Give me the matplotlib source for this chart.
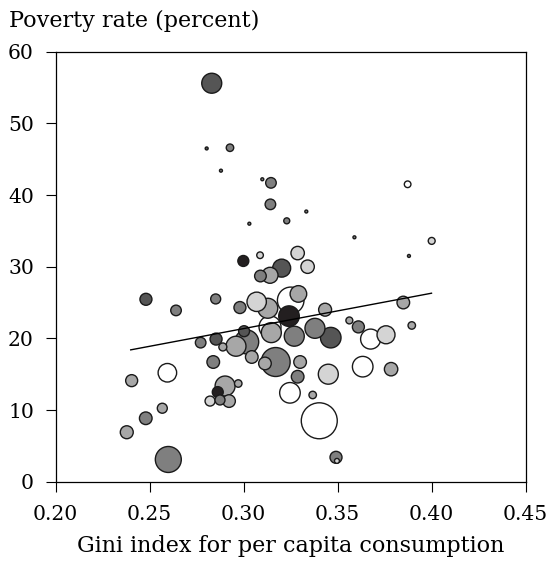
import numpy as np
import matplotlib
matplotlib.use("Agg")
import matplotlib.pyplot as plt

# Gini index, poverty rate (percent), population weight and shading group
gini = [0.2831, 0.2804, 0.2928, 0.2880, 0.3100, 0.3146, 0.3143, 0.3334, 0.3031, 0.3230,
        0.3873, 0.3590, 0.4001, 0.3880, 0.2999, 0.3088, 0.3288, 0.3203, 0.3341, 0.3090,
        0.3141, 0.2852, 0.2981, 0.3070, 0.3129, 0.3251, 0.3292, 0.3242, 0.3434, 0.3141,
        0.3148, 0.3003, 0.2960, 0.2854, 0.3270, 0.3380, 0.3464, 0.3171, 0.2772, 0.3017,
        0.2890, 0.3044, 0.3114, 0.3301, 0.3288, 0.3247, 0.3368, 0.2902, 0.2972, 0.2863,
        0.2822, 0.2875, 0.2923, 0.3850, 0.3563, 0.3611, 0.3676, 0.3758, 0.3895, 0.3634,
        0.3785, 0.3451, 0.3403, 0.3492, 0.3497, 0.2481, 0.2641, 0.2839, 0.2595, 0.2405,
        0.2568, 0.2480, 0.2379, 0.2600]
poverty = [55.6, 46.5, 46.6, 43.4, 42.2, 41.7, 38.7, 37.7, 36.0, 36.4,
           41.5, 34.1, 33.6, 31.5, 30.8, 31.6, 31.9, 29.8, 30.0, 28.7,
           28.8, 25.5, 24.3, 25.1, 24.2, 25.3, 26.2, 23.1, 24.0, 21.6,
           20.8, 21.0, 18.9, 19.9, 20.3, 21.4, 20.1, 16.7, 19.4, 19.5,
           18.8, 17.4, 16.5, 16.7, 14.65, 12.4, 12.1, 13.35, 13.7, 12.5,
           11.25, 11.4, 11.25, 25.0, 22.5, 21.6, 19.9, 20.5, 21.8, 16.05,
           15.7, 15.0, 8.5, 3.4, 2.9, 25.45, 23.9, 16.7, 15.2, 14.1,
           10.25, 8.85, 6.9, 3.1]
pop = [100, 2.2, 14, 2.2, 2.2, 28, 28, 2.2, 2.2, 9,
       11, 2.2, 12, 2.2, 30, 11, 45, 81, 45, 34,
       64, 25, 36, 94, 100, 177, 69, 106, 42, 121,
       100, 30, 100, 36, 100, 100, 106, 210, 28, 144,
       16, 40, 40, 40, 40, 106, 14, 100, 14, 30,
       25, 25, 40, 40, 12, 36, 100, 81, 14, 106,
       45, 100, 324, 36, 6, 36, 28, 40, 86, 36,
       25, 40, 42, 169]
group = [4, 4, 3, 3, 3, 3, 3, 3, 3, 3,
         0, 3, 1, 3, 5, 1, 1, 4, 1, 3,
         2, 3, 3, 1, 2, 0, 2, 5, 2, 0,
         2, 4, 2, 4, 3, 3, 4, 3, 3, 3,
         2, 2, 2, 2, 3, 0, 2, 2, 2, 5,
         1, 3, 2, 2, 2, 3, 0, 1, 2, 0,
         2, 1, 0, 3, 1, 4, 3, 3, 0, 2,
         2, 3, 2, 3]

# fitted line: poverty = intercept + slope * gini
fit_intercept = 6.54
fit_slope = 49.4
fit_range = [0.24, 0.40]

shades = ['#ffffff', '#d4d4d4', '#a7a7a7', '#7f7f7f', '#555555', '#231f20']

plt.rcParams['font.family'] = ['DejaVu Serif']

fig = plt.figure(figsize=(5.47, 5.62), dpi=100)
ax = fig.add_axes([0.1015, 0.1429, 0.8592, 0.7651])

x = np.array(gini)
y = np.array(poverty)
s = np.array(pop) * 2.07
c = [shades[g] for g in group]

# big bubbles first so small ones stay visible on top
order = np.argsort(-s)
ax.scatter(x[order], y[order], s=s[order], c=[c[i] for i in order],
           edgecolors='#1a1a1a', linewidths=1.0, zorder=3)

xf = np.array(fit_range)
ax.plot(xf, fit_intercept + fit_slope * xf, color='black', lw=1.0, zorder=4)

ax.set_xlim(0.20, 0.45)
ax.set_ylim(0, 60)
ax.set_xticks([0.20, 0.25, 0.30, 0.35, 0.40, 0.45])
ax.set_xticklabels(['0.20', '0.25', '0.30', '0.35', '0.40', '0.45'])
ax.set_yticks([0, 10, 20, 30, 40, 50, 60])
ax.tick_params(direction='out', length=7, width=0.8, labelsize=14.6)
ax.tick_params(axis='x', pad=10)
ax.tick_params(axis='y', pad=8.5)
for sp in ax.spines.values():
    sp.set_linewidth(0.9)

ax.set_xlabel('Gini index for per capita consumption', fontsize=16, labelpad=8)
fig.text(0.016, 0.952, 'Poverty rate (percent)', fontsize=16, ha='left', va='baseline')

fig.savefig('out.png', dpi=100)
